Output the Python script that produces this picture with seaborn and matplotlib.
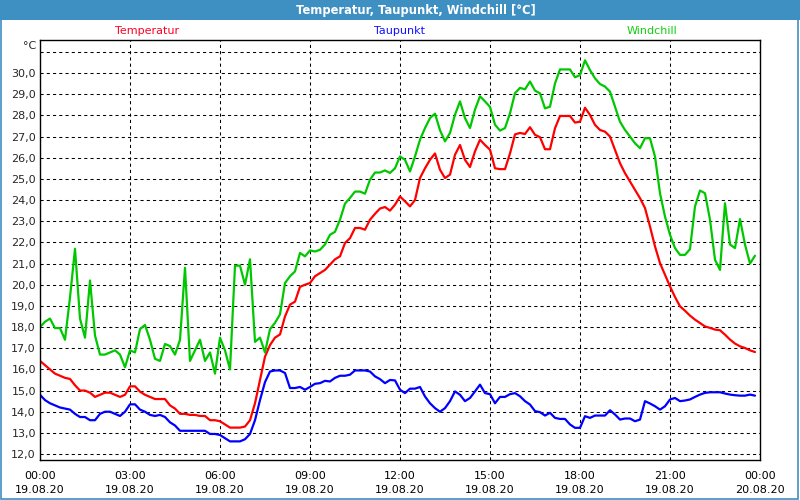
import matplotlib
matplotlib.use("Agg")
import matplotlib.pyplot as plt
import matplotlib.dates as mdates
from matplotlib.ticker import MultipleLocator, FuncFormatter
from matplotlib.patches import Rectangle
import pandas as pd
import seaborn as sns

# 10-minute readings, 19.08.20 00:00 .. 23:50 (one row = one hour)
temperatur = [
    16.4, 16.2, 16.0, 15.8, 15.7, 15.6,
    15.55, 15.25, 15.0, 15.0, 14.9, 14.7,
    14.8, 14.9, 14.9, 14.8, 14.7, 14.8,
    15.2, 15.2, 14.95, 14.8, 14.7, 14.6,
    14.6, 14.6, 14.3, 14.15, 13.9, 13.9,
    13.85, 13.85, 13.8, 13.8, 13.6, 13.6,
    13.55, 13.4, 13.25, 13.25, 13.25, 13.3,
    13.6, 14.4, 15.5, 16.6, 17.15, 17.5,
    17.65, 18.5, 19.06, 19.2, 19.9, 20.0,
    20.08, 20.4, 20.55, 20.7, 20.95, 21.2,
    21.34, 21.97, 22.2, 22.68, 22.68, 22.6,
    23.07, 23.35, 23.6, 23.67, 23.5, 23.78,
    24.17, 23.94, 23.7, 24.0, 25.04, 25.5,
    25.9, 26.2, 25.43, 25.04, 25.2, 26.14,
    26.6, 25.9, 25.56, 26.3, 26.85, 26.6,
    26.38, 25.5, 25.46, 25.46, 26.2, 27.1,
    27.17, 27.12, 27.44, 27.08, 26.97, 26.4,
    26.4, 27.39, 27.97, 27.97, 27.97, 27.66,
    27.7, 28.36, 28.02, 27.55, 27.31, 27.23,
    27.0, 26.37, 25.74, 25.27, 24.87, 24.48,
    24.09, 23.62, 22.75, 21.81, 21.02, 20.47,
    19.92, 19.42, 18.98, 18.77, 18.54, 18.35,
    18.19, 18.03, 17.96, 17.88, 17.85, 17.64,
    17.41, 17.22, 17.09, 17.01, 16.9, 16.82,
]
taupunkt = [
    14.8, 14.55, 14.4, 14.3, 14.2, 14.15,
    14.1, 13.9, 13.75, 13.75, 13.6, 13.6,
    13.9, 14.0, 14.0, 13.9, 13.8, 14.0,
    14.35, 14.35, 14.1, 14.0, 13.85, 13.8,
    13.85, 13.75, 13.5, 13.35, 13.1, 13.1,
    13.1, 13.1, 13.1, 13.1, 12.95, 12.95,
    12.9, 12.75, 12.6, 12.6, 12.6, 12.7,
    12.95, 13.6, 14.55, 15.4, 15.9, 15.95,
    15.95, 15.83, 15.12, 15.12, 15.17, 15.04,
    15.17, 15.32, 15.35, 15.46, 15.43, 15.6,
    15.7, 15.7, 15.75, 15.95, 15.95, 15.95,
    15.9, 15.67, 15.54, 15.35, 15.5, 15.48,
    15.04, 14.88, 15.09, 15.09, 15.17, 14.72,
    14.4, 14.17, 14.0, 14.17, 14.5, 14.96,
    14.8, 14.5, 14.65, 14.96, 15.28, 14.88,
    14.83, 14.4, 14.7, 14.7, 14.83, 14.88,
    14.73, 14.5, 14.34, 14.03, 13.98, 13.82,
    13.95, 13.71, 13.66, 13.66, 13.4, 13.24,
    13.24, 13.79, 13.71, 13.82, 13.82, 13.82,
    14.07, 13.87, 13.63, 13.68, 13.68, 13.55,
    13.63, 14.5, 14.39, 14.26, 14.1, 14.26,
    14.58, 14.65, 14.5, 14.53, 14.58, 14.7,
    14.81, 14.89, 14.92, 14.92, 14.92, 14.86,
    14.81, 14.78, 14.76, 14.76, 14.81, 14.76,
]
windchill = [
    18.0, 18.25, 18.4, 17.95, 17.95, 17.4,
    19.4, 21.7, 18.4, 17.5, 20.2, 17.6,
    16.7, 16.7, 16.8, 16.9, 16.7, 16.1,
    16.9, 16.8, 17.9, 18.1, 17.4, 16.5,
    16.4, 17.2, 17.1, 16.7, 17.4, 20.8,
    16.4, 16.9, 17.4, 16.4, 16.8, 15.8,
    17.5, 16.9, 16.0, 20.9, 20.9, 20.0,
    21.2, 17.3, 17.5, 16.8, 17.9, 18.2,
    18.6, 20.08, 20.4, 20.63, 21.5, 21.34,
    21.62, 21.57, 21.65, 21.9, 22.36, 22.5,
    23.07, 23.83, 24.1, 24.4, 24.4, 24.3,
    24.96, 25.3, 25.3, 25.4, 25.28, 25.5,
    26.06, 25.9, 25.35, 26.06, 26.85, 27.4,
    27.87, 28.08, 27.3, 26.77, 27.17, 28.03,
    28.66, 27.87, 27.4, 28.27, 28.9, 28.66,
    28.4, 27.56, 27.28, 27.4, 28.1, 29.05,
    29.3, 29.23, 29.6, 29.17, 29.04, 28.33,
    28.41, 29.51, 30.17, 30.17, 30.17, 29.8,
    29.9, 30.6, 30.14, 29.75, 29.48, 29.36,
    29.12, 28.41, 27.7, 27.31, 27.0, 26.68,
    26.45, 26.92, 26.92, 26.05, 24.32, 23.22,
    22.36, 21.73, 21.41, 21.41, 21.68, 23.7,
    24.45, 24.32, 23.07, 21.18, 20.7, 23.85,
    21.9, 21.73, 23.1, 21.9, 21.0, 21.37,
]
series_names = ["Temperatur", "Taupunkt", "Windchill"]
series_colors = {"Temperatur": "#ff0000", "Taupunkt": "#0000ff", "Windchill": "#00c800"}
label_colors = {"Temperatur": "#ff0022", "Taupunkt": "#1010ff", "Windchill": "#10d010"}

zeit = pd.date_range("2020-08-19 00:00", periods=len(temperatur), freq="10min")
df = pd.concat([
    pd.DataFrame({"zeit": zeit, "wert": temperatur, "reihe": "Temperatur"}),
    pd.DataFrame({"zeit": zeit, "wert": taupunkt, "reihe": "Taupunkt"}),
    pd.DataFrame({"zeit": zeit, "wert": windchill, "reihe": "Windchill"}),
])

sns.set_style("white")
plt.rcParams["font.family"] = ["DejaVu Sans"]
plt.rcParams["font.size"] = 8

fig = plt.figure(figsize=(8, 5), dpi=100)
bar_col = "#3e8fc2"
# title bar and window border
fig.patches.append(Rectangle((0, 0.96), 1, 0.04, transform=fig.transFigure,
                             facecolor=bar_col, edgecolor="none", zorder=0))
fig.patches.append(Rectangle((0.001, 0.002), 0.997, 0.996, transform=fig.transFigure,
                             facecolor="none", edgecolor=bar_col, lw=1.2, zorder=0))
fig.text(0.52, 0.979, "Temperatur, Taupunkt, Windchill [°C]", color="white",
         fontweight="bold", fontsize=8.3, ha="center", va="center")

ax = fig.add_axes([0.05, 0.08, 0.90, 0.84])
sns.lineplot(data=df, x="zeit", y="wert", hue="reihe", hue_order=series_names,
             palette=series_colors, linewidth=1.6, legend=False, ax=ax)

ax.set_xlim(pd.Timestamp("2020-08-19 00:00"), pd.Timestamp("2020-08-20 00:00"))
ax.set_ylim(11.72, 31.56)
ax.set_xlabel("")
ax.set_ylabel("")

ax.xaxis.set_major_locator(mdates.HourLocator(byhour=range(0, 24, 3)))
ax.xaxis.set_minor_locator(mdates.HourLocator())
ax.xaxis.set_major_formatter(mdates.DateFormatter("%H:%M\n%d.%m.%y"))
ax.yaxis.set_major_locator(MultipleLocator(1))
ax.yaxis.set_major_formatter(FuncFormatter(
    lambda v, p: f"{v:.1f}".replace(".", ",") if v < 30.5 else ""))

ax.tick_params(axis="x", which="both", direction="out", length=3, width=0.8,
               color="black", pad=5, labelsize=8, labelcolor="#000000")
ax.tick_params(axis="y", which="both", length=0, pad=3, labelsize=8)
for lbl in ax.get_xticklabels():
    lbl.set_linespacing(1.5)

ax.grid(True, axis="both", which="major", color="black",
        linestyle=(0, (3, 3)), linewidth=0.75)
for s in ax.spines.values():
    s.set_visible(True)
    s.set_color("black")
    s.set_linewidth(1.0)

fig.text(0.045, 0.908, "°C", ha="right", va="center", fontsize=8)
for name, xpos in zip(series_names, [0.184, 0.499, 0.815]):
    fig.text(xpos, 0.937, name, color=label_colors[name], ha="center",
             va="center", fontsize=8)

fig.savefig("out.png", dpi=100, facecolor="white")
